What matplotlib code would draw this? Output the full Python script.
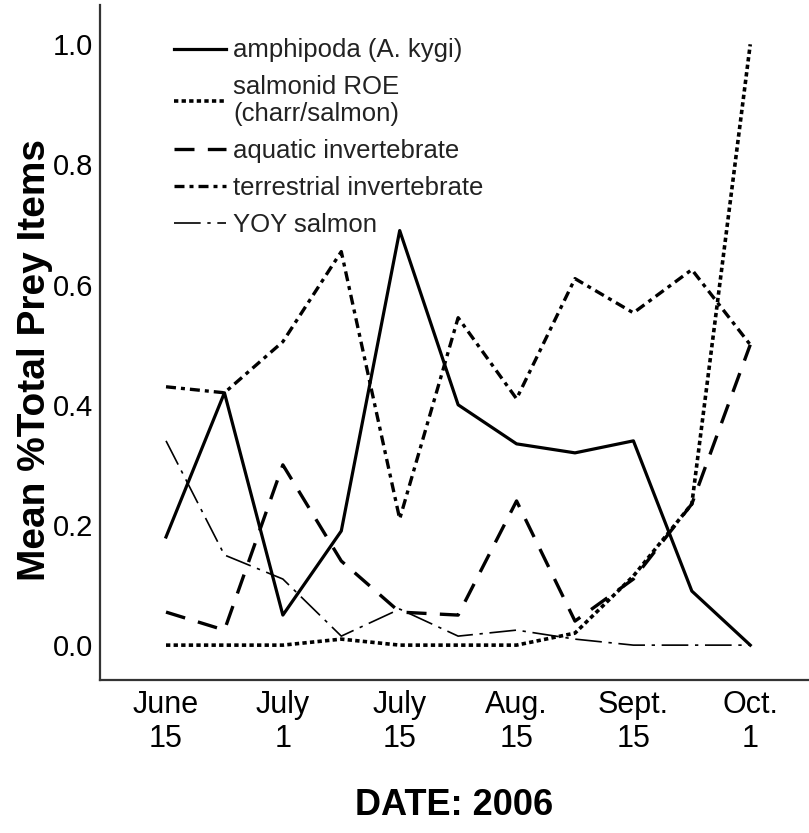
import matplotlib
matplotlib.use('Agg')
import matplotlib.pyplot as plt

plt.rcParams['font.family'] = ['Liberation Sans', 'DejaVu Sans']

# sampling dates (index) and tick labels
samples = list(range(11))
tick_pos = [0, 2, 4, 6, 8, 10]
tick_labels = ['June\n15', 'July\n1', 'July\n15', 'Aug.\n15', 'Sept.\n15', 'Oct.\n1']
y_ticks = [0.0, 0.2, 0.4, 0.6, 0.8, 1.0]

# mean proportion of total prey items
amphipoda = [0.18, 0.42, 0.05, 0.19, 0.69, 0.40, 0.335, 0.32, 0.34, 0.09, 0.0]
roe = [0.0, 0.0, 0.0, 0.01, 0.0, 0.0, 0.0, 0.02, 0.115, 0.235, 1.0]
aquatic = [0.055, 0.025, 0.30, 0.14, 0.055, 0.05, 0.24, 0.04, 0.11, 0.235, 0.50]
terrestrial = [0.43, 0.42, 0.505, 0.655, 0.21, 0.545, 0.41, 0.61, 0.553, 0.625, 0.50]
yoy = [0.34, 0.15, 0.11, 0.015, 0.06, 0.015, 0.025, 0.01, 0.0, 0.0, 0.0]

fig = plt.figure(figsize=(8.09, 8.33), dpi=100)
ax = fig.add_axes([0.1236, 0.1837, 0.876, 0.81])

ax.plot(samples, amphipoda, color='black', lw=2.3, ls='-', label='amphipoda (A. kygi)')
ax.plot(samples, roe, color='black', lw=2.6, ls=(0, (1.2, 0.9)), label='salmonid ROE\n(charr/salmon)')
ax.plot(samples, aquatic, color='black', lw=2.4, ls=(0, (6, 4)), label='aquatic invertebrate')
ax.plot(samples, terrestrial, color='black', lw=2.4, ls=(0, (3, 1.5, 1.2, 1.5)), label='terrestrial invertebrate')
ax.plot(samples, yoy, color='black', lw=1.2, ls=(0, (16, 4, 2, 4)), label='YOY salmon')

ax.set_xlim(-1.13, 11.0)
ax.set_ylim(-0.058, 1.065)
ax.set_xticks(tick_pos)
ax.set_xticklabels(tick_labels, fontsize=22, linespacing=1.2)
ax.set_yticks(y_ticks)
ax.set_yticklabels(['%.1f' % v for v in y_ticks], fontsize=21)
ax.tick_params(length=0)
ax.tick_params(axis='x', pad=7)
ax.tick_params(axis='y', pad=5)

ax.spines['top'].set_visible(False)
ax.spines['right'].set_visible(False)
ax.spines['left'].set_linewidth(1.6)
ax.spines['bottom'].set_linewidth(1.6)
ax.spines['left'].set_color('#333333')
ax.spines['bottom'].set_color('#333333')

ax.set_ylabel('Mean %Total Prey Items', fontsize=28, fontweight='bold')
ax.yaxis.set_label_coords(-0.066, 0.474)
ax.set_xlabel('DATE: 2006', fontsize=26, fontweight='bold', labelpad=24)

leg = ax.legend(loc='upper left', bbox_to_anchor=(0.072, 0.985), frameon=False,
                fontsize=18.5, handlelength=2.0, handletextpad=0.3, labelspacing=0.5)
for t in leg.get_texts():
    t.set_color('#222222')
    t.set_linespacing(1.15)

plt.savefig('out.png', dpi=100)
